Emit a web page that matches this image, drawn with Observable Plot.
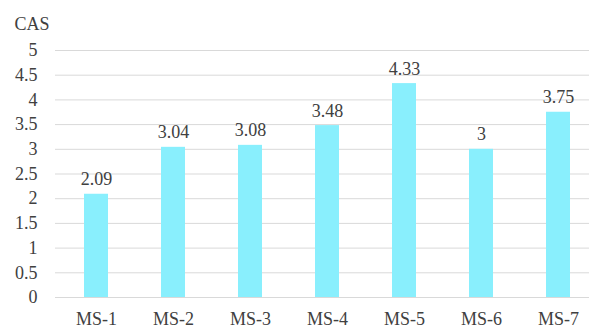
<!DOCTYPE html>
<html>
<head>
<meta charset="utf-8">
<script src="https://cdn.jsdelivr.net/npm/d3@7"></script>
<script src="https://cdn.jsdelivr.net/npm/@observablehq/plot@0.6"></script>
<style>
  html, body { margin: 0; padding: 0; background: #fff; }
  #chart svg { display: block; }
  #chart svg, #chart svg text { font-family: "Liberation Serif", "Times New Roman", serif !important; }
</style>
</head>
<body>
<div id="chart"></div>
<script>
const categories = ["MS-1", "MS-2", "MS-3", "MS-4", "MS-5", "MS-6", "MS-7"];
const values = [2.09, 3.04, 3.08, 3.48, 4.33, 3, 3.75];
const yTicks = [0, 0.5, 1, 1.5, 2, 2.5, 3, 3.5, 4, 4.5, 5];
const yTitle = "CAS";

const data = categories.map((c, i) => ({ cat: c, val: values[i] }));

const chart = Plot.plot({
  width: 589,
  height: 329,
  marginLeft: 55,
  marginRight: 0,
  marginTop: 50,
  marginBottom: 32,
  style: "font-family: 'Liberation Serif', serif; font-size: 18px; color: #404040; background: #fff;",
  x: { domain: categories, range: [55, 599], paddingInner: 0.69, paddingOuter: 0.345, label: null },
  y: { domain: [0, 5], label: null },
  marks: [
    Plot.ruleY(yTicks, { stroke: "#d9d9d9", strokeWidth: 1 }),
    Plot.barY(data, { x: "cat", y: "val", fill: "#89EFFD" }),
    Plot.text(data, { x: "cat", y: "val", text: d => String(d.val), dy: -9, lineAnchor: "bottom", fill: "#404040", fontSize: 18, fontFamily: "Liberation Serif" }),
    Plot.axisY({ ticks: yTicks, tickSize: 0, tickPadding: 18, tickFormat: d => String(d), label: null, fontSize: 18, fontFamily: "Liberation Serif" }),
    Plot.axisX({ tickSize: 0, tickPadding: 15, label: null, fontSize: 18, fontFamily: "Liberation Serif" }),
    Plot.text([yTitle], { frameAnchor: "top-left", dx: -41, dy: -26.5, textAnchor: "start", lineAnchor: "middle", fill: "#404040", fontSize: 18, fontFamily: "Liberation Serif" })
  ]
});
document.getElementById("chart").appendChild(chart);
</script>
</body>
</html>
